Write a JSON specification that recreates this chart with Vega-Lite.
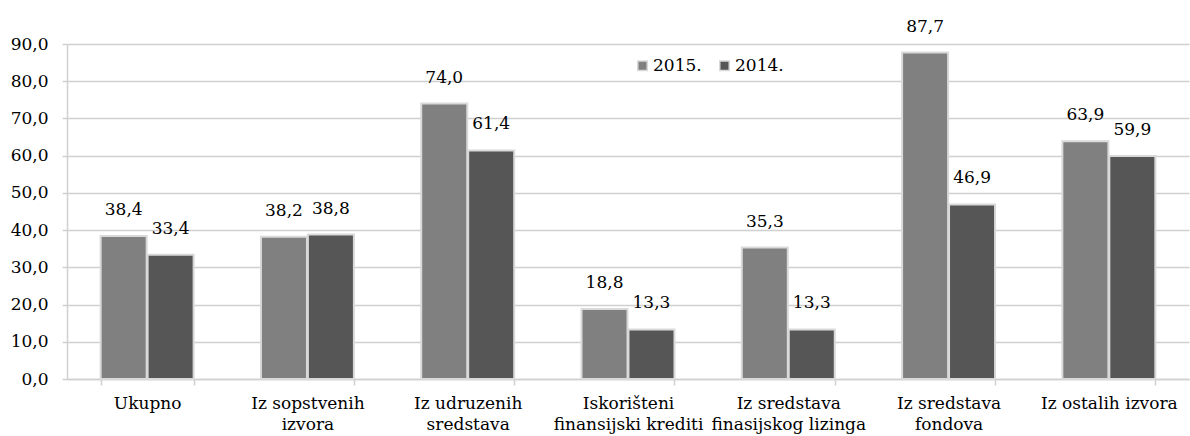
{
  "$schema": "https://vega.github.io/schema/vega-lite/v6.json",
  "width": 1122,
  "height": 335,
  "autosize": {"type": "none"},
  "padding": {"left": 67, "top": 44, "right": 1, "bottom": 57},
  "background": "white",
  "config": {
    "locale": {"number": {"decimal": ",", "thousands": ".", "grouping": [3], "currency": ["", ""]}},
    "font": "DejaVu Serif",
    "view": {"stroke": null}
  },
  "data": {
    "values": [
      {"kategorija": "Ukupno", "godina": "2015.", "vrednost": 38.4},
      {"kategorija": "Ukupno", "godina": "2014.", "vrednost": 33.4},
      {"kategorija": "Iz sopstvenih\nizvora", "godina": "2015.", "vrednost": 38.2},
      {"kategorija": "Iz sopstvenih\nizvora", "godina": "2014.", "vrednost": 38.8},
      {"kategorija": "Iz udruzenih\nsredstava", "godina": "2015.", "vrednost": 74.0},
      {"kategorija": "Iz udruzenih\nsredstava", "godina": "2014.", "vrednost": 61.4},
      {"kategorija": "Iskorišteni\nfinansijski krediti", "godina": "2015.", "vrednost": 18.8},
      {"kategorija": "Iskorišteni\nfinansijski krediti", "godina": "2014.", "vrednost": 13.3},
      {"kategorija": "Iz sredstava\nfinasijskog lizinga", "godina": "2015.", "vrednost": 35.3},
      {"kategorija": "Iz sredstava\nfinasijskog lizinga", "godina": "2014.", "vrednost": 13.3},
      {"kategorija": "Iz sredstava\nfondova", "godina": "2015.", "vrednost": 87.7},
      {"kategorija": "Iz sredstava\nfondova", "godina": "2014.", "vrednost": 46.9},
      {"kategorija": "Iz ostalih izvora", "godina": "2015.", "vrednost": 63.9},
      {"kategorija": "Iz ostalih izvora", "godina": "2014.", "vrednost": 59.9}
    ]
  },
  "encoding": {
    "x": {
      "field": "kategorija",
      "type": "nominal",
      "sort": null,
      "scale": {"paddingInner": 0.42, "paddingOuter": 0.21},
      "axis": {
        "title": null,
        "labelAngle": 0,
        "labelExpr": "split(datum.label, '\\n')",
        "labelFont": "DejaVu Serif",
        "labelFontSize": 17,
        "labelColor": "#000000",
        "labelLineHeight": 21,
        "labelPadding": 10,
        "labelBaseline": "top",
        "domainColor": "#d0d0d0",
        "domainWidth": 1.5,
        "tickColor": "#d0d0d0",
        "tickWidth": 1.5,
        "tickSize": 6,
        "tickBand": "extent",
        "grid": false
      }
    },
    "xOffset": {
      "field": "godina",
      "type": "nominal",
      "sort": ["2015.", "2014."],
      "scale": {"paddingInner": 0.02}
    },
    "y": {
      "field": "vrednost",
      "type": "quantitative",
      "scale": {"domain": [0, 90], "nice": false},
      "axis": {
        "title": null,
        "values": [0, 10, 20, 30, 40, 50, 60, 70, 80, 90],
        "format": ".1f",
        "labelFont": "DejaVu Serif",
        "labelFontSize": 17,
        "labelColor": "#000000",
        "labelPadding": 14,
        "tickSize": 5,
        "tickColor": "#d0d0d0",
        "tickWidth": 1.5,
        "domainColor": "#d0d0d0",
        "domainWidth": 1.5,
        "gridColor": "#d0d0d0",
        "gridWidth": 1.5
      }
    }
  },
  "layer": [
    {
      "mark": {"type": "bar", "stroke": "#d9d9d9", "strokeWidth": 2},
      "encoding": {
        "color": {
          "field": "godina",
          "type": "nominal",
          "sort": ["2015.", "2014."],
          "scale": {"domain": ["2015.", "2014."], "range": ["#808080", "#565656"]},
          "legend": {
            "title": null,
            "orient": "none",
            "direction": "horizontal",
            "legendX": 567,
            "legendY": 13,
            "symbolType": "square",
            "symbolSize": 90,
            "symbolStrokeColor": "#d9d9d9",
            "symbolStrokeWidth": 1.5,
            "labelFont": "DejaVu Serif",
            "labelFontSize": 17,
            "labelColor": "#000000",
            "labelOffset": 2,
            "columnPadding": 14
          }
        }
      }
    },
    {
      "mark": {"type": "text", "baseline": "alphabetic", "dy": -21, "font": "DejaVu Serif", "fontSize": 17, "color": "#000000"},
      "encoding": {
        "text": {"field": "vrednost", "type": "quantitative", "format": ".1f"}
      }
    }
  ]
}
